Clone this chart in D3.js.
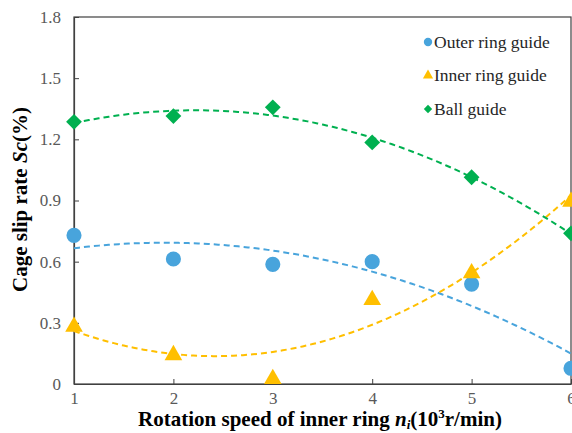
<!DOCTYPE html>
<html>
<head>
<meta charset="utf-8">
<script src="https://cdn.jsdelivr.net/npm/d3@7"></script>
<style>
  body { margin: 0; background: #fff; }
  svg { display: block; }
  svg text { font-family: "Liberation Serif", "Times New Roman", Times, serif; }
</style>
</head>
<body>
<svg id="chart" width="572" height="433"></svg>
<script>
// Rotation speed (10^3 r/min)
const speeds = [1, 2, 3, 4, 5, 6];
// Cage slip rate Sc (%)
const outerRing = [0.729, 0.613, 0.587, 0.600, 0.490, 0.077];
const innerRing = [0.286, 0.147, 0.030, 0.417, 0.548, 0.899];
const ballGuide = [1.286, 1.314, 1.357, 1.185, 1.014, 0.739];
const yTicks = [0, 0.3, 0.6, 0.9, 1.2, 1.5, 1.8];
const seriesNames = ['Outer ring guide', 'Inner ring guide', 'Ball guide'];

const colors = ['#48a4dc', '#ffbf00', '#00b050'];
const shapes = [d3.symbolCircle, d3.symbolTriangle, d3.symbolSquare];
const sizes = [180, 135, 125];
const rot = [0, 0, 45];

const margin = { top: 17, right: 1, bottom: 49, left: 74 };
const W = 572, H = 433;
const width = W - margin.left - margin.right;
const height = H - margin.top - margin.bottom;
const serif = '"Liberation Serif", "Times New Roman", serif';

const svg = d3.select('#chart');
const g = svg.append('g').attr('transform', `translate(${margin.left},${margin.top})`);

const x = d3.scaleLinear().domain([1, 6]).range([0, width]);
const y = d3.scaleLinear().domain([0, 1.8]).range([height, 0]);

// 2nd order polynomial trendline (least squares, like the spreadsheet)
function quadFit(xs, ys) {
  let s = [0, 0, 0, 0, 0], t = [0, 0, 0];
  xs.forEach((xv, i) => {
    for (let k = 0; k < 5; k++) s[k] += Math.pow(xv, k);
    for (let k = 0; k < 3; k++) t[k] += ys[i] * Math.pow(xv, k);
  });
  const A = [[s[0], s[1], s[2]], [s[1], s[2], s[3]], [s[2], s[3], s[4]]];
  const det = m => m[0][0] * (m[1][1] * m[2][2] - m[1][2] * m[2][1])
    - m[0][1] * (m[1][0] * m[2][2] - m[1][2] * m[2][0])
    + m[0][2] * (m[1][0] * m[2][1] - m[1][1] * m[2][0]);
  const D = det(A);
  const c = [0, 1, 2].map(j => det(A.map((row, r) => row.map((v, k) => k === j ? t[r] : v))) / D);
  return xv => c[0] + c[1] * xv + c[2] * xv * xv;
}

// plot box
g.append('rect')
  .attr('width', width).attr('height', height)
  .attr('fill', 'none').attr('stroke', '#404040').attr('stroke-width', 1.2);

// axes with inward ticks
const xAxis = g.append('g')
  .attr('transform', `translate(0,${height})`)
  .call(d3.axisBottom(x).tickValues(speeds).tickSizeInner(-5).tickSizeOuter(0).tickPadding(8).tickFormat(d3.format('d')));
const yAxis = g.append('g')
  .call(d3.axisLeft(y).tickValues(yTicks).tickSizeInner(-5).tickSizeOuter(0).tickPadding(13).tickFormat(d => d === 0 ? '0' : d3.format('.1f')(d)));

[xAxis, yAxis].forEach(a => {
  a.attr('font-family', serif).attr('font-size', 17);
  a.select('.domain').attr('stroke', '#404040').attr('stroke-width', 1.2);
  a.selectAll('.tick line').attr('stroke', '#404040');
  a.selectAll('.tick text').attr('fill', '#595959');
});

const allSeries = [outerRing, innerRing, ballGuide];

// trendlines
const line = d3.line().x(d => x(d[0])).y(d => y(d[1]));
allSeries.forEach((vals, i) => {
  const f = quadFit(speeds, vals);
  const pts = d3.range(0, 101).map(k => { const xv = 1 + k * 0.05; return [xv, f(xv)]; });
  g.append('path')
    .datum(pts)
    .attr('d', line)
    .attr('fill', 'none')
    .attr('stroke', colors[i])
    .attr('stroke-width', 2)
    .attr('stroke-dasharray', '6,4');
});

// markers
allSeries.forEach((vals, i) => {
  g.selectAll('.pt' + i)
    .data(vals)
    .enter()
    .append('path')
    .attr('class', 'pt' + i)
    .attr('transform', (d, k) => `translate(${x(speeds[k])},${y(d) + (i === 1 ? 1 : 0)}) rotate(${rot[i]})`)
    .attr('d', d3.symbol().type(shapes[i]).size(sizes[i]))
    .attr('fill', colors[i]);
});

// legend
const legend = svg.append('g').attr('transform', 'translate(428,42)');
seriesNames.forEach((name, i) => {
  const row = legend.append('g').attr('transform', `translate(0,${i * 33.5})`);
  row.append('path')
    .attr('transform', `rotate(${rot[i]})`)
    .attr('d', d3.symbol().type(shapes[i]).size([55, 45, 35][i]))
    .attr('fill', colors[i]);
  row.append('text')
    .attr('x', 6).attr('y', 5.5)
    .attr('fill', '#262626')
    .attr('font-family', serif)
    .attr('font-size', 17.5)
    .text(name);
});

// y-axis title
const yt = svg.append('text')
  .attr('transform', `translate(27,${margin.top + height / 2 - 1}) rotate(-90)`)
  .attr('text-anchor', 'middle')
  .attr('font-family', serif)
  .attr('font-size', 21)
  .attr('font-weight', 'bold')
  .attr('fill', '#000');
yt.append('tspan').text('Cage slip rate ');
yt.append('tspan').attr('font-style', 'italic').text('Sc');
yt.append('tspan').text('(%)');

// x-axis title
const xt = svg.append('text')
  .attr('x', 320).attr('y', 426)
  .attr('text-anchor', 'middle')
  .attr('font-family', serif)
  .attr('font-size', 21)
  .attr('font-weight', 'bold')
  .attr('fill', '#000');
xt.append('tspan').text('Rotation speed of inner ring  ');
xt.append('tspan').attr('font-style', 'italic').text('n');
xt.append('tspan').attr('font-style', 'italic').attr('font-size', 13).attr('dy', 3).text('i');
xt.append('tspan').attr('dy', -3).text('(10');
xt.append('tspan').attr('font-size', 13).attr('dy', -8).text('3');
xt.append('tspan').attr('dy', 8).text('r/min)');
</script>
</body>
</html>
